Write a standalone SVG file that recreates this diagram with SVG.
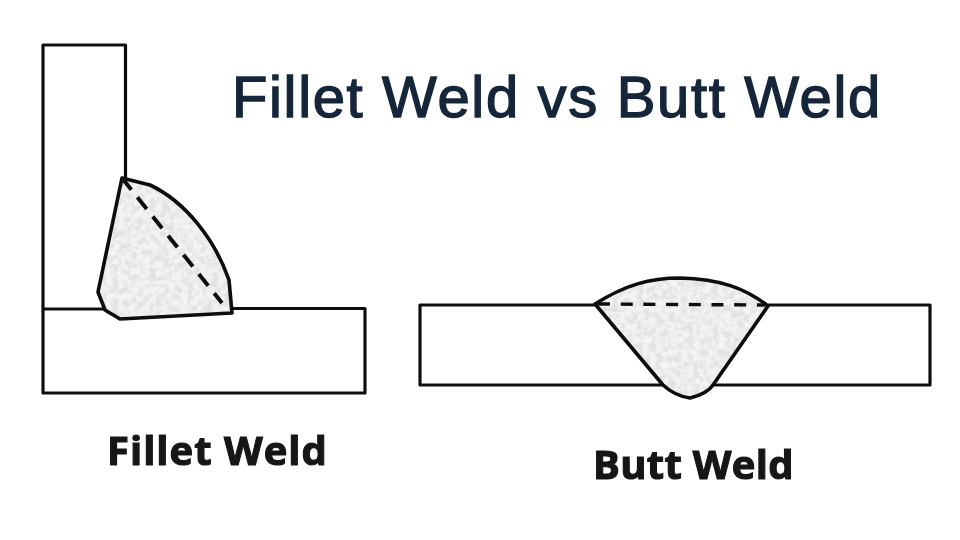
<svg xmlns="http://www.w3.org/2000/svg" width="960" height="540" viewBox="0 0 960 540">
<style>
.line{fill:none;stroke:#111;stroke-width:3.2;stroke-linejoin:round}
.weld{fill:#f3f3f3;stroke:none;filter:url(#mottle)}
.edge{fill:none;stroke:#0d0d0d;stroke-width:3.6;stroke-linejoin:round}
.dash{fill:none;stroke:#111;stroke-width:4;stroke-dasharray:15 9.6}
.dash2{fill:none;stroke:#111;stroke-width:3.4;stroke-dasharray:12 10.7}
.title{font-family:"Liberation Sans",Arial,sans-serif;font-size:58px;fill:#15263b;stroke:#15263b;stroke-width:1.4px;letter-spacing:1.65px}
.label{font-family:"Open Sans","Noto Sans",sans-serif;font-weight:700;font-size:40px;fill:#141414;stroke:#141414;stroke-width:1.1px}
</style>
<defs>
<filter id="mottle" x="0" y="0" width="1" height="1">
<feTurbulence type="fractalNoise" baseFrequency="0.16" numOctaves="3" seed="4" result="n"/>
<feColorMatrix in="n" type="matrix" values="0 0 0 0 0.76  0 0 0 0 0.76  0 0 0 0 0.76  3.4 0 0 0 -1.3" result="s"/>
<feComposite in="s" in2="SourceAlpha" operator="in" result="c"/>
<feMerge><feMergeNode in="SourceGraphic"/><feMergeNode in="c"/></feMerge>
</filter>
<filter id="soft"><feGaussianBlur stdDeviation="0.5"/></filter>
</defs>
<rect width="960" height="540" fill="#fff"/>
<text class="title" x="232" y="117">Fillet Weld vs Butt Weld</text>
<g id="fillet-weld" filter="url(#soft)">
<path class="line" d="M43 309V45H125.500V180"/>
<path class="line" d="M43 309H105M232 308.500H365V393H43V309"/>
<path class="weld" d="M122 178L150 185C186 202 215 240 229 280L232 313L120 319L105 310L98 292Z"/>
<path class="dash" d="M122 178L222 303"/>
<path class="edge" d="M122 178L150 185C186 202 215 240 229 280L232 313L120 319L105 310L98 292Z"/>
</g>
<g id="butt-weld" filter="url(#soft)">
<path class="line" d="M595 305H420V385H663M713 385H930V305H768"/>
<path class="weld" d="M595 304C625 285 650 278 680 278C720 279 745 288 768 306L713 385L705 392L690 398L670 393L663 385Z"/>
<path class="dash2" d="M598 304L765 305"/>
<path class="edge" d="M595 304C625 285 650 278 680 278C720 279 745 288 768 306L713 385Q707 394 690 398Q675 396 663 385Z"/>
</g>
<g filter="url(#soft)">
<text class="label" x="107" y="465" letter-spacing="1">Fillet Weld</text>
<text class="label" x="593" y="479" letter-spacing="0.3">Butt Weld</text>
</g>
</svg>
